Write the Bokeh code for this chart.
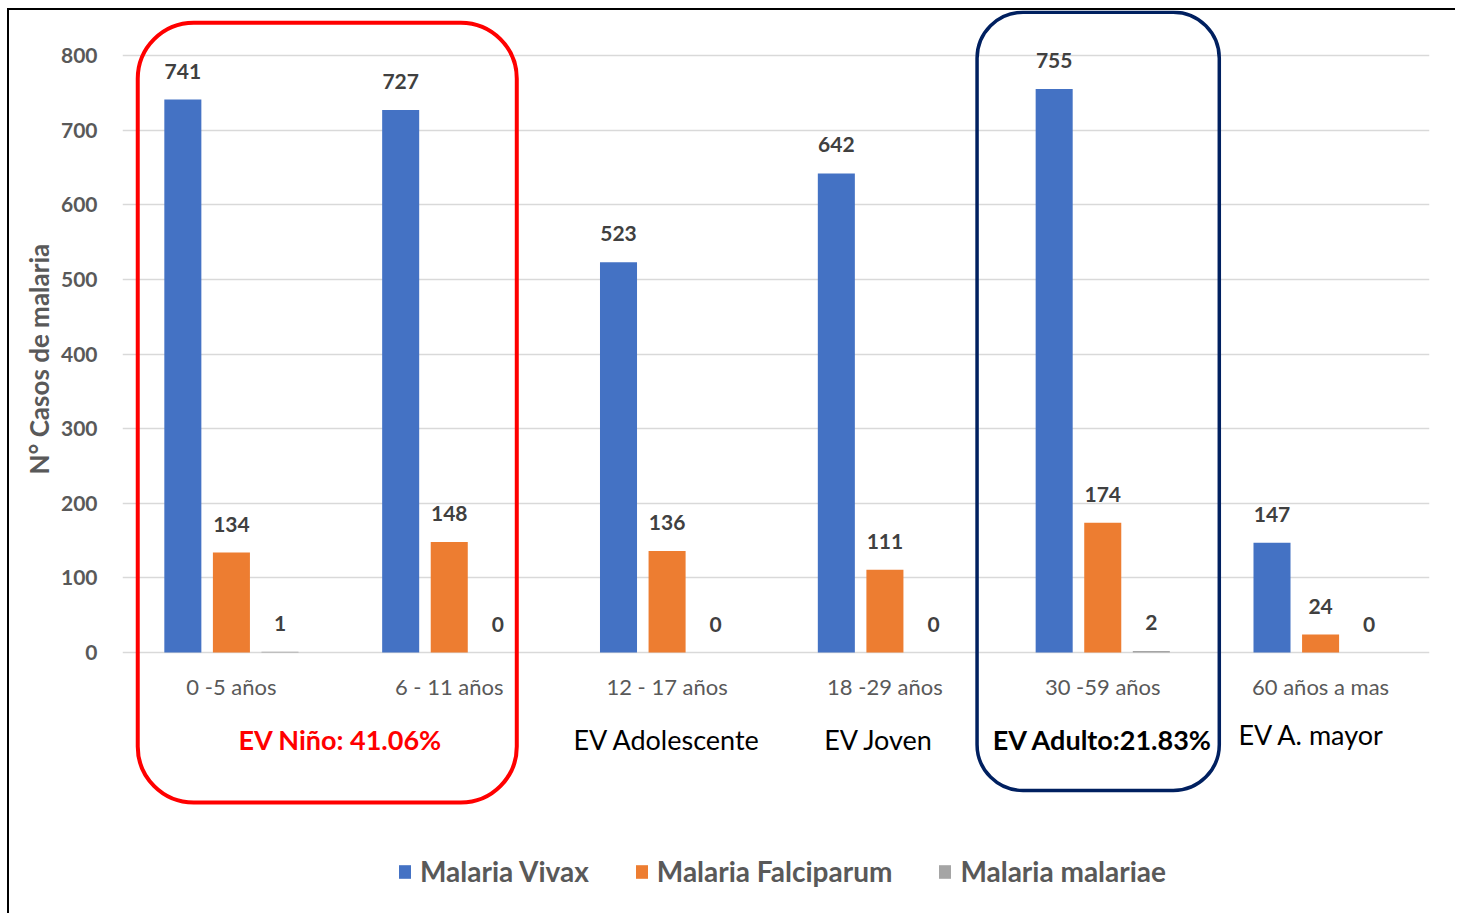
from bokeh.plotting import figure
from bokeh.models import (Range1d, FixedTicker, ColumnDataSource, LabelSet, Label,
                          BoxAnnotation, Legend, LegendItem, Title)
from bokeh.core.properties import value
from bokeh.embed import file_html
from bokeh.resources import INLINE

# ---------------- data ----------------
categories = ["0 -5 años", "6 - 11 años", "12 - 17 años", "18 -29 años",
              "30 -59 años", "60 años a mas"]
series_names = ["Malaria Vivax", "Malaria Falciparum", "Malaria malariae"]
vivax = [741, 727, 523, 642, 755, 147]
falciparum = [134, 148, 136, 111, 174, 24]
malariae = [1, 0, 0, 0, 2, 0]
y_ticks = [0, 100, 200, 300, 400, 500, 600, 700, 800]
group_labels = ["EV Niño: 41.06%", "EV Adolescente", "EV Joven",
                "EV Adulto:21.83%", "EV A. mayor"]
group_members = [[0, 1], [2], [3], [4], [5]]

# ---------------- style ----------------
colors = ["#4472C4", "#ED7D31", "#A5A5A5"]
FONT = "Lato"
series_values = [vivax, falciparum, malariae]
offsets = [-0.223, 0.0, 0.223]
bar_w = 0.17

# frame spans (almost) the whole figure vertically so that the annotations
# below the bars are not clipped; 0..800 keeps the reference's pixel scale
p = figure(width=1448, height=905, x_range=Range1d(0, len(categories)),
           y_range=Range1d(-345.7, 860.3), output_backend="svg",
           toolbar_location=None,
           min_border_left=113, min_border_right=28, min_border_top=0,
           min_border_bottom=5)
p.outline_line_color = None
p.background_fill_color = "white"
p.border_fill_color = "white"
p.styles = {"border-left": "2px solid #000", "border-top": "2px solid #000",
            "margin-left": "7px", "margin-top": "8px"}

p.xgrid.visible = False
p.xaxis.visible = False
p.ygrid.grid_line_color = "#d9d9d9"
p.ygrid.grid_line_width = 1.3

# y axis
p.yaxis.ticker = FixedTicker(ticks=y_ticks)
p.yaxis.axis_line_color = None
p.yaxis.major_tick_line_color = None
p.yaxis.minor_tick_line_color = None
p.yaxis.major_label_standoff = 19
p.yaxis.major_label_text_font = FONT
p.yaxis.major_label_text_font_style = "bold"
p.yaxis.major_label_text_font_size = "21px"
p.yaxis.major_label_text_color = "#595959"

ytitle = Title(text="N° Casos de malaria", align="left", offset=436,
               text_font=FONT, text_font_style="bold", text_font_size="26px",
               text_color="#595959", standoff=6)
p.add_layout(ytitle, "left")

# category labels
centers = [i + 0.5 for i in range(len(categories))]
cat_src = ColumnDataSource(dict(x=centers, y=[-45.6] * len(categories),
                                text=categories))
p.text(x="x", y="y", text="text", source=cat_src, text_align="center",
       text_baseline="middle", text_font=value(FONT), text_font_size="22px",
       text_color="#595959")

# bars + labels
renderers = []
for vals, off, col in zip(series_values, offsets, colors):
    src = ColumnDataSource(dict(x=[c + off for c in centers], top=vals,
                                label=[str(v) for v in vals]))
    r = p.vbar(x="x", top="top", width=bar_w, source=src, fill_color=col,
               line_color=None)
    renderers.append(r)
    p.add_layout(LabelSet(x="x", y="top", text="label", source=src,
                          text_align="center", text_baseline="bottom",
                          y_offset=21, text_font=value(FONT),
                          text_font_style="bold", text_font_size="21px",
                          text_color="#404040"))

# group (life stage) labels
group_styles = [("#ff0000", "bold", 0, 0), ("#000000", "normal", 0, 0),
                ("#000000", "normal", -6, 0), ("#000000", "bold", 0, 0),
                ("#000000", "normal", -9, 5)]
for lab, mem, (col, st, dx, dy) in zip(group_labels, group_members, group_styles):
    gx = sum(centers[m] for m in mem) / len(mem)
    p.add_layout(Label(x=gx, y=-116, x_offset=dx, y_offset=dy, text=lab,
                       text_align="center", text_baseline="middle",
                       text_font=FONT, text_font_style=st,
                       text_font_size="27px", text_color=col))

# rounded highlight boxes
p.add_layout(BoxAnnotation(left=0.07, right=1.81, top=844, bottom=-201,
                           fill_alpha=0, line_color="#ff0000", line_alpha=1,
                           line_width=4, border_radius=56))
p.add_layout(BoxAnnotation(left=3.923, right=5.035, top=858, bottom=-185,
                           fill_alpha=0, line_color="#002060", line_alpha=1,
                           line_width=3.5, border_radius=46))

# legend
legend = Legend(items=[LegendItem(label=n, renderers=[r])
                       for n, r in zip(series_names, renderers)],
                orientation="horizontal", location=(275, 22),
                glyph_width=15, glyph_height=17, label_standoff=8, spacing=45,
                label_text_font=FONT, label_text_font_style="bold",
                label_text_font_size="28px", label_text_color="#595959",
                border_line_color=None, background_fill_alpha=0, padding=0,
                margin=0)
p.add_layout(legend)

open("out.html", "w").write(file_html(p, INLINE))
